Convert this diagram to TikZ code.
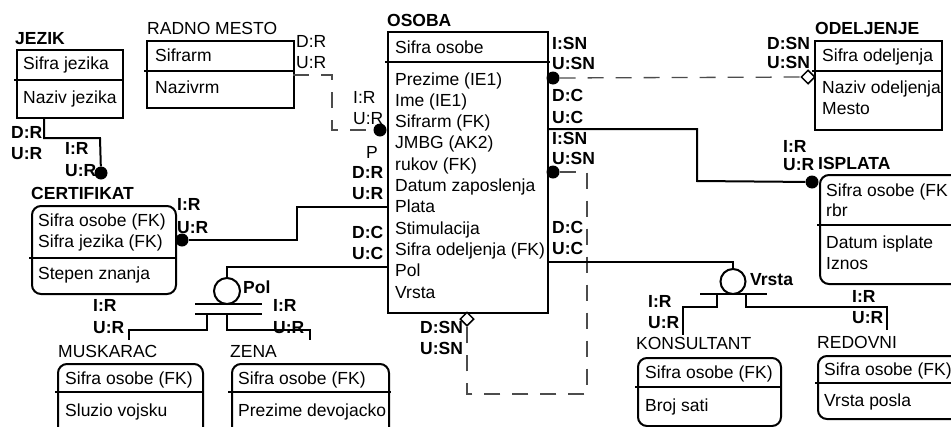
\documentclass[tikz,border=0pt]{standalone}
\usepackage{fontspec}
\setmainfont{Liberation Sans}
\usetikzlibrary{shapes.geometric}
\tikzset{
 ebox/.style={draw, line width=2pt, inner sep=0pt, anchor=north west},
 rbox/.style={ebox, rounded corners=9pt},
 divl/.style={line width=2pt},
 conn/.style={line width=2pt},
 dsh/.style={line width=1.3pt, draw=black!70, dash pattern=on 16pt off 12pt},
 fdot/.style={circle, fill=black, inner sep=0pt, minimum size=13pt},
 hdiam/.style={diamond, draw, fill=white, line width=1.5pt, inner sep=0pt, minimum size=14pt},
 subc/.style={circle, draw, line width=2pt, inner sep=0pt, minimum size=26pt},
 txt/.style={anchor=base west, inner sep=0pt, font=\fontsize{17.5}{21}\selectfont},
 lab/.style={txt, font=\fontsize{17.5}{21}\selectfont\bfseries},
}
\begin{document}
\begin{tikzpicture}[x=1pt,y=-1pt]
\useasboundingbox (0,0) rectangle (951,426);
\clip (0,0) rectangle (951,426);
\fill[white] (0,0) rectangle (951,426);

% ---------- JEZIK ----------
\node[lab] (tJ) at (15,44) {JEZIK};
\node[ebox, minimum width=106pt, minimum height=68pt] (jezik) at (16,49) {};
\draw[divl] (14,80) -- (124,80);
\node[txt] (j1) at (23,69) {Sifra jezika};
\node[txt] (j2) at (23,103) {Naziv jezika};

% ---------- RADNO MESTO ----------
\node[txt] (tRM) at (147,34) {RADNO MESTO};
\node[ebox, minimum width=147pt, minimum height=67pt] (rm) at (146,40) {};
\draw[divl] (144,71) -- (295,71);
\node[txt] (rm1) at (155,61) {Sifrarm};
\node[txt] (rm2) at (155,93) {Nazivrm};

% ---------- OSOBA ----------
\node[lab] (tO) at (387,26) {OSOBA};
\node[ebox, minimum width=160pt, minimum height=281pt] (osoba) at (387,31) {};
\draw[divl] (385,62) -- (550,62);
\node[txt] (o0) at (395,53) {Sifra osobe};
\foreach \t [count=\i from 1] in {Prezime (IE1),Ime (IE1),Sifrarm (FK),JMBG (AK2),rukov (FK),Datum zaposlenja,Plata,Stimulacija,Sifra odeljenja (FK),Pol,Vrsta}
  \node[txt] (o\i) at (395,{85+21.3*(\i-1)}) {\t};

% ---------- ODELJENJE ----------
\node[lab] (tOD) at (815,34) {ODELJENJE};
\node[ebox, minimum width=127pt, minimum height=89pt] (odelj) at (814,40) {};
\draw[divl] (812,71) -- (943,71);
\node[txt] (od1) at (822,61) {Sifra odeljenja};
\node[txt] (od2) at (822,93) {Naziv odeljenja};
\node[txt] (od3) at (822,114) {Mesto};

% ---------- ISPLATA ----------
\node[lab] (tI) at (818,169) {ISPLATA};
\node[rbox, minimum width=160pt, minimum height=109pt] (isplata) at (819,174) {};
\draw[divl] (817,225) -- (960,225);
\node[txt] (i1) at (826,196) {Sifra osobe (FK};
\node[txt] (i2) at (826,216) {rbr};
\node[txt] (i3) at (826,248) {Datum isplate};
\node[txt] (i4) at (826,269) {Iznos};

% ---------- CERTIFIKAT ----------
\node[lab] (tC) at (31,199) {CERTIFIKAT};
\node[rbox, minimum width=144pt, minimum height=88pt] (cert) at (31,205) {};
\draw[divl] (29,258) -- (177,258);
\node[txt] (c1) at (38,226) {Sifra osobe (FK)};
\node[txt] (c2) at (38,247) {Sifra jezika (FK)};
\node[txt] (c3) at (38,279) {Stepen znanja};

% ---------- MUSKARAC ----------
\node[txt] (tM) at (58,357) {MUSKARAC};
\node[rbox, minimum width=145pt, minimum height=80pt] (musk) at (57,363) {};
\draw[divl] (55,392) -- (204,392);
\node[txt] (m1) at (65,384) {Sifra osobe (FK)};
\node[txt] (m2) at (65,416) {Sluzio vojsku};

% ---------- ZENA ----------
\node[txt] (tZ) at (230,357) {ZENA};
\node[rbox, minimum width=157pt, minimum height=80pt] (zena) at (231,363) {};
\draw[divl] (228,392) -- (391,392);
\node[txt] (z1) at (238,384) {Sifra osobe (FK)};
\node[txt] (z2) at (238,416) {Prezime devojacko};

% ---------- KONSULTANT ----------
\node[txt] (tK) at (636,349) {KONSULTANT};
\node[rbox, minimum width=143pt, minimum height=68pt] (kons) at (637,357) {};
\draw[divl] (635,387) -- (782,387);
\node[txt] (k1) at (645,378) {Sifra osobe (FK)};
\node[txt] (k2) at (645,411) {Broj sati};

% ---------- REDOVNI ----------
\node[txt] (tR) at (817,348) {REDOVNI};
\node[rbox, minimum width=160pt, minimum height=63pt] (redov) at (817,355) {};
\draw[divl] (815,383) -- (960,383);
\node[txt] (r1) at (824,375) {Sifra osobe (FK)};
\node[txt] (r2) at (824,406) {Vrsta posla};

% ---------- JEZIK -> CERTIFIKAT ----------
\node[fdot] (dJC) at (101,173) {};
\draw[conn] (jezik.south west -| 44,0) -- (44,138) -- (100,138) -- (dJC);
\node[lab] (lJ1) at (11,138) {D:R};
\node[lab] (lJ2) at (11,159) {U:R};
\node[lab] (lJ3) at (65,154) {I:R};
\node[lab] (lJ4) at (65,176) {U:R};

% ---------- RADNO MESTO -> OSOBA ----------
\node[fdot] (dRM) at (380,130) {};
\coordinate (rmOut) at (293,75);
\draw[dsh] (rmOut) -- (332,75) -- (332,130) -- (dRM);
\node[txt] (lR1) at (296,47) {D:R};
\node[txt] (lR2) at (296,68) {U:R};
\node[txt] (lR3) at (353,103) {I:R};
\node[txt] (lR4) at (353,124) {U:R};
\node[txt] (lP) at (366,158) {P};

% ---------- OSOBA -> ODELJENJE ----------
\node[fdot] (dOD) at (553,78) {};
\node[hdiam] (dmOD) at (808,77) {};
\draw[dsh] (dOD) -- (dmOD);
\node[lab] (lO1) at (552,49) {I:SN};
\node[lab] (lO2) at (552,69) {U:SN};
\node[lab] (lOD1) at (767,49) {D:SN};
\node[lab] (lOD2) at (767,68) {U:SN};

% ---------- OSOBA -> ISPLATA ----------
\node[fdot] (dIS) at (812,182) {};
\draw[conn] (osoba.east |- 0,129) -- (697,129) -- (697,181) -- (dIS);
\node[lab] (lO3) at (552,101) {D:C};
\node[lab] (lO4) at (552,123) {U:C};
\node[lab] (lIS1) at (783,152) {I:R};
\node[lab] (lIS2) at (783,170) {U:R};

% ---------- recursive rukov ----------
\node[fdot] (dRK) at (553,172) {};
\node[hdiam] (dmRK) at (467,319) {};
\draw[dsh] (dRK) -- (587,172) -- (587,394) -- (467,394) -- (dmRK);
\node[lab] (lO5) at (552,144) {I:SN};
\node[lab] (lO6) at (552,164) {U:SN};
\node[lab] (lRK1) at (420,333) {D:SN};
\node[lab] (lRK2) at (420,354) {U:SN};

% ---------- OSOBA -> CERTIFIKAT ----------
\node[fdot] (dCE) at (182,240) {};
\draw[conn] (osoba.west |- 0,207) -- (297,207) -- (297,240) -- (dCE);
\node[lab] (lL1) at (352,178) {D:R};
\node[lab] (lL2) at (352,199) {U:R};
\node[lab] (lCE1) at (177,210) {I:R};
\node[lab] (lCE2) at (177,233) {U:R};

% ---------- Pol subtype ----------
\node[subc] (pol) at (227,291) {};
\draw[conn] (osoba.west |- 0,267) -- (227,267) -- (pol.north);
\node[lab] (lPol) at (243,293) {Pol};
\coordinate (pbL1) at (195,304); \coordinate (pbR1) at (262,304);
\coordinate (pbL2) at (195,314); \coordinate (pbR2) at (262,314);
\draw[conn] (pbL1) -- (pbR1);
\draw[conn] (pbL2) -- (pbR2);
\draw[conn] (207,314) -- (207,330) -- (129,330) -- (129,340);
\draw[conn] (227,314) -- (227,330) -- (310,330) -- (310,340);
\node[lab] (lD1) at (352,238) {D:C};
\node[lab] (lD2) at (352,259) {U:C};
\node[lab] (lM1) at (93,311) {I:R};
\node[lab] (lM2) at (93,333) {U:R};
\node[lab] (lZ1) at (273,311) {I:R};
\node[lab] (lZ2) at (273,333) {U:R};

% ---------- Vrsta subtype ----------
\node[subc, minimum size=25pt] (vrsta) at (733,281.5) {};
\draw[conn] (osoba.east |- 0,262) -- (733,262) -- (vrsta.north);
\node[lab] (lVr) at (750,285) {Vrsta};
\coordinate (vbL) at (700,294); \coordinate (vbR) at (767,294);
\draw[conn] (vbL) -- (vbR);
\draw[conn] (717,294) -- (717,307) -- (683,307) -- (683,335);
\draw[conn] (746,294) -- (746,307) -- (887,307) -- (887,330);
\node[lab] (lO7) at (552,233) {D:C};
\node[lab] (lO8) at (552,254) {U:C};
\node[lab] (lK1) at (648,307) {I:R};
\node[lab] (lK2) at (648,328) {U:R};
\node[lab] (lRe1) at (852,302) {I:R};
\node[lab] (lRe2) at (852,323) {U:R};
\end{tikzpicture}
\end{document}
